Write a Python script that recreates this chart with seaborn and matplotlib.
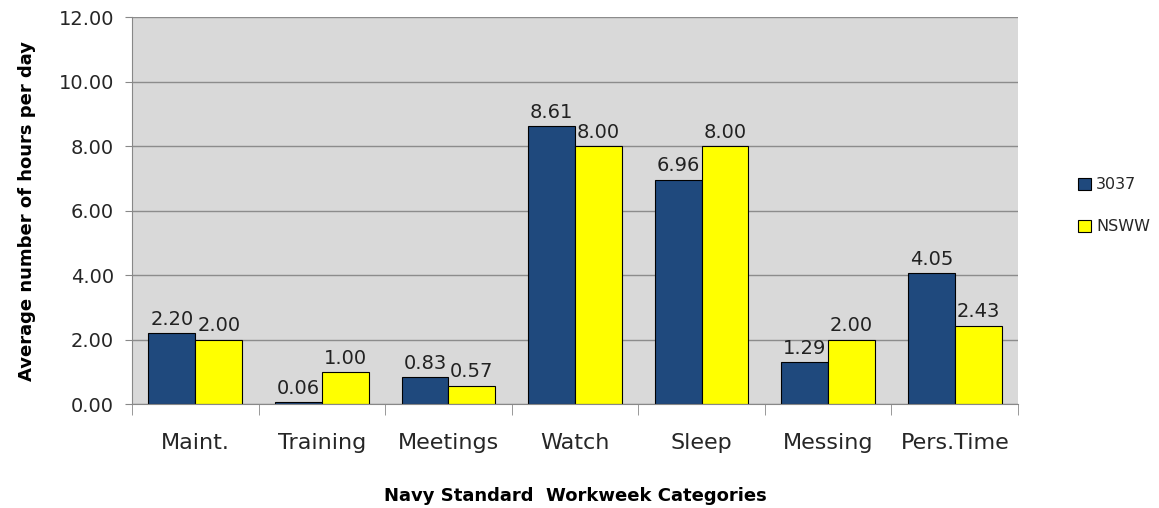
import pandas as pd
import matplotlib.pyplot as plt
import seaborn as sns

# data
categories = ["Maint.", "Training", "Meetings", "Watch", "Sleep", "Messing", "Pers.Time"]
hours_3037 = [2.20, 0.06, 0.83, 8.61, 6.96, 1.29, 4.05]
hours_nsww = [2.00, 1.00, 0.57, 8.00, 8.00, 2.00, 2.43]
series = ["3037", "NSWW"]
colors = ["#1f497d", "#ffff00"]

df = pd.DataFrame({
    "category": categories * 2,
    "hours": hours_3037 + hours_nsww,
    "series": [series[0]] * len(categories) + [series[1]] * len(categories),
})

sns.set_style("white")
plt.rcParams["font.family"] = ["DejaVu Sans"]

fig = plt.figure(figsize=(11.59, 5.08), dpi=100)
ax = fig.add_axes([0.1139, 0.2047, 0.7645, 0.7618])
ax.set_facecolor("#d9d9d9")

sns.barplot(data=df, x="category", y="hours", hue="series", order=categories,
            hue_order=series, palette=colors, width=0.74, edgecolor="black",
            linewidth=0.8, saturation=1, ax=ax, legend=True)

for c in ax.containers:
    ax.bar_label(c, fmt="%.2f", padding=3, fontsize=14, color="#222222")

ax.set_ylim(0, 12)
ax.set_yticks(range(0, 13, 2))
ax.set_yticklabels([f"{v:.2f}" for v in range(0, 13, 2)], fontsize=14)
ax.set_xlim(-0.5, len(categories) - 0.5)
ax.tick_params(axis="x", labelsize=16, length=0, pad=21)
ax.tick_params(axis="y", length=5, color="#888888", left=True, pad=8)
ax.set_xticks([i - 0.5 for i in range(len(categories) + 1)], minor=True)
ax.tick_params(axis="x", which="minor", length=8, color="#888888", bottom=True)

ax.grid(axis="y", color="#8c8c8c", linewidth=1)
ax.set_axisbelow(True)
for side in ["top", "right"]:
    ax.spines[side].set_visible(False)
for side in ["left", "bottom"]:
    ax.spines[side].set_color("#888888")

ax.set_xlabel("Navy Standard  Workweek Categories", fontsize=13, fontweight="bold",
              labelpad=24, color="black")
ax.set_ylabel("Average number of hours per day", fontsize=13, fontweight="bold",
              labelpad=16, color="black")

handles, labels = ax.get_legend_handles_labels()
ax.legend_.remove()
fig.legend(handles, labels, loc="center left", bbox_to_anchor=(0.918, 0.595),
           frameon=False, fontsize=11.5, handlelength=0.8, handleheight=0.8,
           handletextpad=0.3, labelspacing=1.7)

fig.savefig("out.png", dpi=100)
